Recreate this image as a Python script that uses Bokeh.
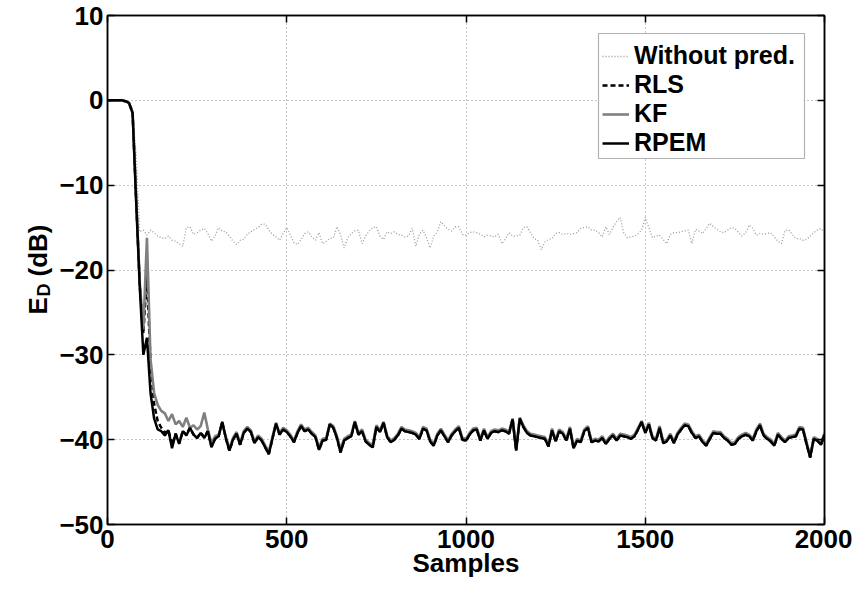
import math
from bokeh.plotting import figure
from bokeh.layouts import row
from bokeh.models import Range1d, FixedTicker, LinearAxis, Legend, LegendItem, BoxAnnotation
from bokeh.core.properties import value
from bokeh.embed import file_html
from bokeh.resources import INLINE

# ---------------- data ----------------
samples = list(range(0, 2001, 10))

without_pred = [
    0, 0, 0, 0, 0, -0.1, -0.3, -1.0, -6.5, -15.5,
    -15.3, -15.9, -15.3, -15.6, -16.0, -16.2, -16.3, -16.0, -16.5, -16.6,
    -16.9, -17.2, -15.0, -14.9, -15.8, -15.6, -15.3, -15.1, -15.7, -16.6,
    -16.0, -15.0, -15.4, -15.5, -16.0, -16.6, -17.0, -16.5, -16.4, -15.8,
    -15.5, -15.2, -15.0, -14.6, -14.6, -15.3, -15.8, -16.1, -16.5, -15.7,
    -15.0, -15.9, -16.8, -17.0, -16.4, -15.7, -15.5, -16.1, -16.5, -15.6,
    -16.9, -16.6, -16.3, -16.2, -14.9, -15.8, -17.4, -16.2, -15.7, -15.4,
    -15.3, -16.9, -16.0, -15.4, -15.0, -14.9, -16.0, -16.4, -15.5, -15.7,
    -15.5, -15.8, -15.9, -16.1, -16.0, -15.1, -17.2, -15.8, -15.3, -16.2,
    -17.4, -16.0, -15.5, -14.3, -14.8, -15.2, -15.4, -14.9, -14.9, -15.8,
    -15.9, -15.6, -15.5, -15.6, -15.8, -16.1, -15.9, -16.0, -16.1, -15.8,
    -16.9, -16.3, -15.6, -16.0, -16.0, -15.9, -15.0, -14.9, -15.6, -16.3,
    -16.5, -17.6, -16.7, -16.4, -16.3, -15.7, -15.6, -15.8, -15.7, -15.8,
    -15.7, -15.6, -15.1, -15.0, -14.9, -15.3, -15.3, -15.6, -16.1, -14.9,
    -15.8, -15.0, -14.3, -13.8, -15.6, -16.2, -16.1, -16.0, -15.7, -15.3,
    -13.8, -15.0, -16.2, -16.0, -15.9, -16.4, -16.9, -15.8, -15.6, -15.6,
    -15.5, -15.4, -15.3, -16.9, -15.2, -15.4, -15.7, -15.1, -14.5, -14.9,
    -15.2, -15.5, -15.6, -15.3, -15.0, -15.1, -15.6, -16.0, -15.6, -14.7,
    -15.1, -15.9, -15.7, -15.8, -15.7, -15.6, -16.1, -16.6, -16.9, -15.3,
    -15.3, -15.8, -16.3, -16.3, -16.5, -16.4, -16.0, -15.6, -15.3, -15.1,
    -15.6,
]

rls = [
    0, 0, 0, 0, 0, -0.1, -0.3, -1.5, -11.8, -21.8,
    -27.5, -20.5, -31.0, -35.8, -37.8, -38.6, -39.2, -38.9, -40.6, -39.3,
    -40.4, -39.0, -39.4, -38.6, -39.4, -39.8, -39.2, -39.7, -39.0, -40.8,
    -39.9, -39.6, -37.9, -39.8, -41.3, -40.0, -39.3, -40.6, -39.2, -38.7,
    -39.1, -40.4, -39.7, -40.1, -40.9, -41.7, -39.9, -38.1, -39.4, -38.8,
    -39.1, -39.6, -40.3, -39.2, -38.4, -39.0, -38.8, -39.3, -39.7, -41.2,
    -40.1, -40.0, -38.2, -38.6, -39.8, -41.5, -40.1, -39.8, -39.6, -37.9,
    -39.4, -39.0, -40.2, -40.6, -40.9, -38.5, -39.1, -38.0, -39.7, -40.3,
    -40.0, -39.5, -38.7, -39.0, -39.1, -39.2, -39.4, -39.9, -38.7, -38.9,
    -40.2, -40.7, -39.5, -38.9, -39.6, -40.3, -39.5, -39.0, -38.6, -40.0,
    -40.1, -39.4, -38.9, -38.8, -40.1, -38.9, -39.9, -39.2, -39.0, -39.1,
    -38.9, -39.0, -39.3, -37.6, -41.3, -37.5, -38.5, -39.2, -39.5, -39.6,
    -39.7, -39.8, -39.9, -40.8, -38.9, -40.2, -39.0, -39.3, -40.1, -38.7,
    -41.0, -40.1, -40.3, -39.0, -38.6, -40.3, -40.1, -40.2, -39.8, -40.5,
    -39.9, -39.5, -40.1, -39.5, -39.6, -39.7, -39.9, -39.6, -38.8, -37.9,
    -39.2, -38.2, -39.8, -40.1, -38.6, -40.4, -40.2, -39.5, -40.4, -39.4,
    -38.8, -38.3, -38.4, -39.2, -39.8, -39.6, -40.3, -40.7, -39.9, -39.2,
    -39.3, -39.3, -39.8, -40.1, -40.6, -40.5, -39.9, -39.6, -39.4, -39.6,
    -40.1, -39.0, -38.3, -39.5, -39.9, -40.2, -40.7, -39.4, -39.9, -40.3,
    -39.8, -39.7, -39.6, -38.7, -38.8, -40.5, -42.1, -39.9, -40.1, -40.6,
    -39.4,
]

kf = [
    0, 0, 0, 0, 0, -0.1, -0.3, -1.4, -11.5, -21.5,
    -27.0, -16.2, -30.5, -34.5, -35.9, -36.6, -36.9, -37.8, -37.0, -38.2,
    -37.8, -38.5, -37.4, -38.6, -38.3, -38.8, -38.4, -36.8, -38.8, -40.4,
    -39.6, -39.4, -38.2, -39.6, -41.1, -39.8, -39.1, -40.4, -39.0, -38.5,
    -38.9, -40.2, -39.5, -39.9, -40.7, -41.4, -39.7, -38.0, -39.2, -38.6,
    -38.9, -39.4, -40.1, -39.0, -38.2, -38.8, -38.6, -39.1, -39.5, -40.9,
    -39.9, -39.8, -38.1, -38.4, -39.6, -41.1, -39.9, -39.6, -39.4, -37.8,
    -39.2, -38.8, -40.0, -40.4, -40.6, -38.3, -38.9, -37.9, -39.5, -40.1,
    -39.8, -39.3, -38.5, -38.8, -38.9, -39.0, -39.2, -39.7, -38.5, -38.7,
    -40.0, -40.5, -39.3, -38.7, -39.4, -40.1, -39.3, -38.8, -38.4, -39.8,
    -39.9, -39.2, -38.7, -38.6, -39.9, -38.7, -39.7, -39.0, -38.8, -38.9,
    -38.7, -38.8, -39.1, -37.5, -41.1, -37.4, -38.3, -39.0, -39.3, -39.4,
    -39.5, -39.6, -39.7, -40.6, -38.7, -40.0, -38.8, -39.1, -39.9, -38.5,
    -40.8, -39.9, -40.1, -38.8, -38.4, -40.1, -39.9, -40.0, -39.6, -40.3,
    -39.7, -39.3, -39.9, -39.3, -39.4, -39.5, -39.7, -39.4, -38.6, -37.8,
    -39.0, -38.0, -39.6, -39.9, -38.4, -40.2, -40.0, -39.3, -40.2, -39.2,
    -38.6, -38.1, -38.2, -39.0, -39.6, -39.4, -40.1, -40.5, -39.7, -39.0,
    -39.1, -39.1, -39.6, -39.9, -40.4, -40.3, -39.7, -39.4, -39.2, -39.4,
    -39.9, -38.8, -38.1, -39.3, -39.7, -40.0, -40.5, -39.2, -39.7, -40.1,
    -39.6, -39.5, -39.4, -38.5, -38.6, -40.3, -41.9, -39.7, -39.9, -40.4,
    -39.2,
]

rpem = [
    0, 0, 0, 0, 0, -0.1, -0.3, -1.5, -12.0, -22.0,
    -30.0, -28.0, -34.5, -37.5, -38.8, -39.0, -39.5, -38.9, -41.0, -39.3,
    -40.5, -39.0, -39.5, -38.6, -39.4, -39.8, -39.2, -39.8, -39.0, -40.9,
    -39.9, -39.6, -37.9, -39.8, -41.3, -40.0, -39.3, -40.6, -39.2, -38.7,
    -39.1, -40.4, -39.7, -40.1, -40.9, -41.7, -39.9, -38.1, -39.4, -38.8,
    -39.1, -39.6, -40.3, -39.2, -38.4, -39.0, -38.8, -39.3, -39.7, -41.2,
    -40.1, -40.0, -38.2, -38.6, -39.8, -41.5, -40.1, -39.8, -39.6, -37.9,
    -39.4, -39.0, -40.2, -40.6, -40.9, -38.5, -39.1, -38.0, -39.7, -40.3,
    -40.0, -39.5, -38.7, -39.0, -39.1, -39.2, -39.4, -39.9, -38.7, -38.9,
    -40.2, -40.7, -39.5, -38.9, -39.6, -40.3, -39.5, -39.0, -38.6, -40.0,
    -40.1, -39.4, -38.9, -38.8, -40.1, -38.9, -39.9, -39.2, -39.0, -39.1,
    -38.9, -39.0, -39.3, -37.6, -41.3, -37.5, -38.5, -39.2, -39.5, -39.6,
    -39.7, -39.8, -39.9, -40.8, -38.9, -40.2, -39.0, -39.3, -40.1, -38.7,
    -41.0, -40.1, -40.3, -39.0, -38.6, -40.3, -40.1, -40.2, -39.8, -40.5,
    -39.9, -39.5, -40.1, -39.5, -39.6, -39.7, -39.9, -39.6, -38.8, -37.9,
    -39.2, -38.2, -39.8, -40.1, -38.6, -40.4, -40.2, -39.5, -40.4, -39.4,
    -38.8, -38.3, -38.4, -39.2, -39.8, -39.6, -40.3, -40.7, -39.9, -39.2,
    -39.3, -39.3, -39.8, -40.1, -40.6, -40.5, -39.9, -39.6, -39.4, -39.6,
    -40.1, -39.0, -38.3, -39.5, -39.9, -40.2, -40.7, -39.4, -39.9, -40.3,
    -39.8, -39.7, -39.6, -38.7, -38.8, -40.5, -42.1, -39.9, -40.1, -40.6,
    -39.4,
]

series_names = ["Without pred.", "RLS", "KF", "RPEM"]
x_ticks = [0, 500, 1000, 1500, 2000]
y_ticks = [-50, -40, -30, -20, -10, 0, 10]
y_tick_labels = ["\u221250", "\u221240", "\u221230", "\u221220", "\u221210", "0", "10"]
x_label = "Samples"
y_label_parts = ["E", "D", "(dB)"]   # E with subscript D, then (dB)

# ---------------- layout constants (pixels) ----------------
FONT = "Liberation Sans"
FS = "26px"
H = 584
SIDE_W = 56
B_TOP = 15
B_BOTTOM = 60
FRAME_H = H - B_TOP - B_BOTTOM          # 509

# ---------------- side figure holding the rotated y label ----------------
side = figure(width=SIDE_W, height=H, x_range=Range1d(0, SIDE_W), y_range=Range1d(0, FRAME_H),
              x_axis_type=None, y_axis_type=None, output_backend="svg",
              toolbar_location=None, min_border_left=0, min_border_right=0,
              min_border_top=B_TOP, min_border_bottom=B_BOTTOM)
side.outline_line_color = None
side.background_fill_color = "white"
side.border_fill_color = "white"
side.xgrid.visible = False
side.ygrid.visible = False
ang = math.pi / 2
side.text(x=[37], y=[210], text=[y_label_parts[0]], angle=ang,
          text_align="left", text_baseline="alphabetic",
          text_font=value(FONT), text_font_style="bold", text_font_size=FS,
          text_color="black")
side.text(x=[43], y=[228], text=[y_label_parts[1]], angle=ang,
          text_align="left", text_baseline="alphabetic",
          text_font=value(FONT), text_font_style="bold", text_font_size="18px",
          text_color="black")
side.text(x=[37], y=[248], text=[y_label_parts[2]], angle=ang,
          text_align="left", text_baseline="alphabetic",
          text_font=value(FONT), text_font_style="bold", text_font_size=FS,
          text_color="black")

# ---------------- main figure ----------------
p = figure(width=852 - SIDE_W, height=H,
           x_range=Range1d(0, 2000), y_range=Range1d(-50, 10),
           output_backend="svg", toolbar_location=None,
           min_border_left=49, min_border_right=28,
           min_border_top=B_TOP, min_border_bottom=B_BOTTOM)
p.outline_line_color = "black"
p.outline_line_width = 1.5
p.background_fill_color = "white"
p.border_fill_color = "white"

r_wo = p.line(samples, without_pred, line_color="#9a9a9a", line_width=1.3, line_dash="1 2")
r_rls = p.line(samples, rls, line_color="black", line_width=2.5, line_dash="5 3")
r_kf = p.line(samples, kf, line_color="#808080", line_width=2.6)
r_rpem = p.line(samples, rpem, line_color="black", line_width=2.5)

p.xaxis.ticker = FixedTicker(ticks=x_ticks)
p.yaxis.ticker = FixedTicker(ticks=y_ticks)
p.yaxis.major_label_overrides = {t: s for t, s in zip(y_ticks, y_tick_labels)}


def style_axis(ax, labels=True):
    ax.axis_line_color = "black"
    ax.axis_line_width = 1.5
    ax.major_tick_in = 7
    ax.major_tick_out = 0
    ax.major_tick_line_color = "black"
    ax.major_tick_line_width = 1.5
    ax.minor_tick_line_color = None
    ax.major_label_text_font = FONT
    ax.major_label_text_font_style = "bold"
    ax.major_label_text_color = "black"
    if labels:
        ax.major_label_text_font_size = FS
    else:
        ax.major_label_text_font_size = "0px"
        ax.major_label_standoff = 0


for ax in p.xaxis:
    style_axis(ax)
    ax.major_label_standoff = 5
    ax.axis_label = x_label
    ax.axis_label_text_font = FONT
    ax.axis_label_text_font_style = "bold"
    ax.axis_label_text_font_size = FS
    ax.axis_label_text_color = "black"
    ax.axis_label_standoff = -3
for ax in p.yaxis:
    style_axis(ax)
    ax.major_label_standoff = 4

top_ax = LinearAxis(ticker=FixedTicker(ticks=x_ticks))
style_axis(top_ax, labels=False)
p.add_layout(top_ax, "above")
right_ax = LinearAxis(ticker=FixedTicker(ticks=y_ticks))
style_axis(right_ax, labels=False)
p.add_layout(right_ax, "right")

for g in (p.xgrid, p.ygrid):
    g.grid_line_color = "#8c8c8c"
    g.grid_line_width = 1
    g.grid_line_dash = "1 3"
p.xgrid.ticker = FixedTicker(ticks=x_ticks)
p.ygrid.ticker = FixedTicker(ticks=y_ticks)

# ---------------- legend: framed box + one row per series ----------------
# positions in screen pixels measured from the frame's bottom-left corner
LEG_LEFT, LEG_RIGHT, LEG_BOTTOM, LEG_TOP = 491, 697, 366, 491
ROW_CENTERS = [468, 439, 410, 381]
ROW_HALF = 14
LEG_FS = "25px"
p.add_layout(BoxAnnotation(left=LEG_LEFT, right=LEG_RIGHT, bottom=LEG_BOTTOM, top=LEG_TOP,
                           left_units="screen", right_units="screen",
                           bottom_units="screen", top_units="screen",
                           fill_color="white", fill_alpha=1.0,
                           line_color="black", line_width=1.2))
for name, rend, yc in zip(series_names, [r_wo, r_rls, r_kf, r_rpem], ROW_CENTERS):
    lg = Legend(items=[LegendItem(label=name, renderers=[rend])],
                location=(LEG_LEFT + 4, yc - ROW_HALF), margin=0, padding=0, spacing=0,
                glyph_width=27, glyph_height=18, label_height=18, label_standoff=5,
                label_text_font=FONT, label_text_font_style="bold",
                label_text_font_size=LEG_FS, label_text_color="black",
                border_line_color=None, background_fill_alpha=0.0)
    p.add_layout(lg)

layout = row(side, p, spacing=0)
open("out.html", "w").write(file_html(layout, INLINE))
